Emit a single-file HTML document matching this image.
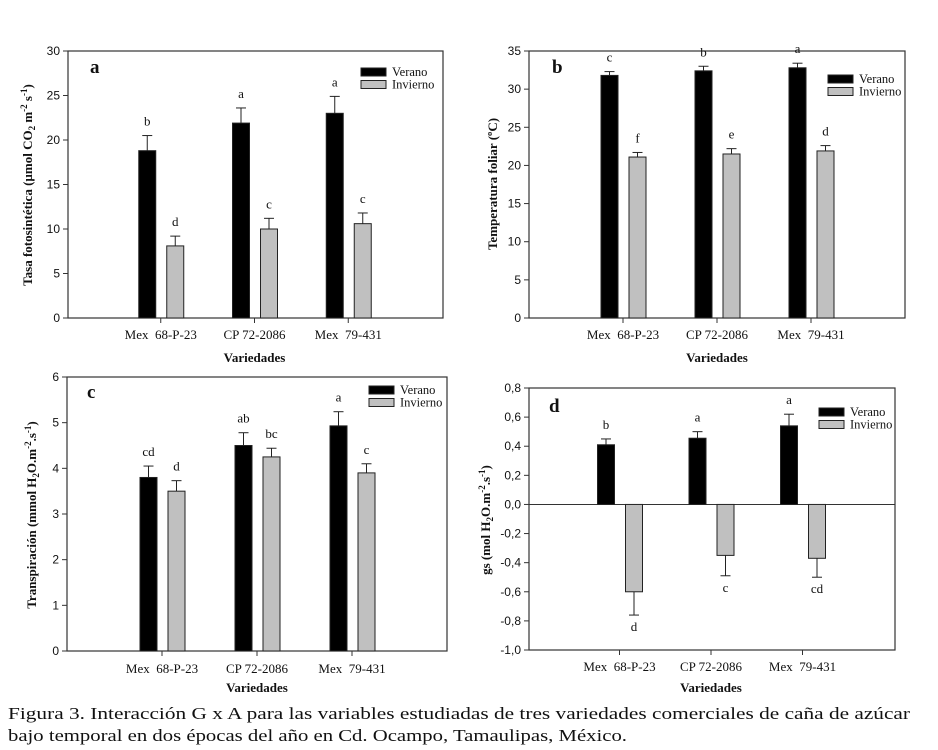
<!DOCTYPE html>
<html><head><meta charset="utf-8"><style>
html,body{margin:0;padding:0;background:#fff;}
svg{display:block;}
.tk{font-family:"Liberation Sans",Arial,sans-serif;font-size:12px;fill:#111;}
.sf{font-family:"Liberation Serif","Times New Roman",serif;fill:#111;white-space:pre;}
</style></head><body>
<svg id="fig" width="938" height="750" viewBox="0 0 938 750">
<g id="charts"></g>
<text class="sf" x="8" y="719" font-size="17" textLength="902" lengthAdjust="spacingAndGlyphs">Figura 3. Interacción G x A para las variables estudiadas de tres variedades comerciales de caña de azúcar</text>
<text class="sf" x="8" y="741" font-size="17" textLength="619" lengthAdjust="spacingAndGlyphs">bajo temporal en dos épocas del año en Cd. Ocampo, Tamaulipas, México.</text>
</svg>
<script>
const categories = ["Mex  68-P-23", "CP 72-2086", "Mex  79-431"];
const seriesNames = ["Verano", "Invierno"];
// panel a
const aVerano = [18.8, 21.9, 23.0];
const aVeranoErr = [1.7, 1.7, 1.9];
const aInvierno = [8.1, 10.0, 10.6];
const aInviernoErr = [1.1, 1.2, 1.2];
const aLettersV = ["b", "a", "a"];
const aLettersI = ["d", "c", "c"];
const aTicks = [0, 5, 10, 15, 20, 25, 30];
// panel b
const bVerano = [31.8, 32.4, 32.8];
const bVeranoErr = [0.5, 0.6, 0.6];
const bInvierno = [21.1, 21.5, 21.9];
const bInviernoErr = [0.6, 0.7, 0.7];
const bLettersV = ["c", "b", "a"];
const bLettersI = ["f", "e", "d"];
const bTicks = [0, 5, 10, 15, 20, 25, 30, 35];
// panel c
const cVerano = [3.8, 4.5, 4.93];
const cVeranoErr = [0.25, 0.28, 0.31];
const cInvierno = [3.5, 4.25, 3.9];
const cInviernoErr = [0.23, 0.19, 0.2];
const cLettersV = ["cd", "ab", "a"];
const cLettersI = ["d", "bc", "c"];
const cTicks = [0, 1, 2, 3, 4, 5, 6];
// panel d
const dVerano = [0.41, 0.455, 0.54];
const dVeranoErr = [0.04, 0.045, 0.08];
const dInvierno = [-0.60, -0.35, -0.37];
const dInviernoErr = [0.16, 0.14, 0.13];
const dLettersV = ["b", "a", "a"];
const dLettersI = ["d", "c", "cd"];
const dTicks = [-1.0, -0.8, -0.6, -0.4, -0.2, 0.0, 0.2, 0.4, 0.6, 0.8];

const NS = "http://www.w3.org/2000/svg";
const root = document.getElementById("charts");
function mk(tag, attrs, parent, text) {
  const e = document.createElementNS(NS, tag);
  for (const k in attrs) e.setAttribute(k, attrs[k]);
  if (text !== undefined) e.textContent = text;
  parent.appendChild(e);
  return e;
}

function panel(p) {
  const g = mk("g", {}, root);
  
  
  const yMin = p.ticks[0], yMax = p.ticks[p.ticks.length - 1];
  const y = v => p.bottom - (v - yMin) / (yMax - yMin) * (p.bottom - p.top);
  const step = (p.right - p.left) / 4;
  const cx = i => p.left + step * (i + 1) + p.shift;
  const fr = mk("rect", {x: p.left, y: p.top, width: p.right - p.left, height: p.bottom - p.top, fill: "none", stroke: "#333", "stroke-width": 1.2}, g);
  
  
  p.ticks.forEach(t => {
    const ty = y(t);
    mk("line", {x1: p.left - 5, x2: p.left, y1: ty, y2: ty, stroke: "#333", "stroke-width": 1}, g);
    const lbl = mk("text", {x: p.left - 8, y: ty + 4, "text-anchor": "end", class: "tk"}, g, p.fmt(t));
    
    
  });
  if (yMin < 0) {
    mk("line", {x1: p.left, x2: p.right, y1: y(0), y2: y(0), stroke: "#333", "stroke-width": 1}, g);
  }
  const BW = 17;
  const series = [
    {vals: p.v, err: p.ve, letters: p.lv, off: -22, fill: "#000"},
    {vals: p.i, err: p.ie, letters: p.li, off: 6, fill: "#c0c0c0"}
  ];
  categories.forEach((c, i) => {
    const x = cx(i);
    mk("line", {x1: x, x2: x, y1: p.bottom, y2: p.bottom + 5, stroke: "#333"}, g);
    const cl = mk("text", {x: x, y: p.catY, "text-anchor": "middle", class: "sf", "font-size": 13}, g, c);
    
    
    series.forEach((s, si) => {
      const v = s.vals[i], e = s.err[i];
      const bx = x + s.off;
      const y0 = y(0), yv = y(v);
      const r = mk("rect", {x: bx, y: Math.min(y0, yv), width: BW, height: Math.abs(y0 - yv), fill: s.fill, stroke: "#222", "stroke-width": 1}, g);
      
      
      const mid = bx + BW / 2;
      const ye = v >= 0 ? y(v + e) : y(v - e);
      mk("line", {x1: mid, x2: mid, y1: yv, y2: ye, stroke: "#222", "stroke-width": 1}, g);
      mk("line", {x1: mid - 5, x2: mid + 5, y1: ye, y2: ye, stroke: "#222", "stroke-width": 1}, g);
      const ly = v >= 0 ? ye - 10 : ye + 16;
      const lt = mk("text", {x: mid, y: ly, "text-anchor": "middle", class: "sf", "font-size": 13}, g, s.letters[i]);
      
      
    });
  });
  seriesNames.forEach((n, k) => {
    const ly = p.legY + k * 12.5;
    const sw = mk("rect", {x: p.legX, y: ly, width: 25, height: 8, fill: k ? "#c0c0c0" : "#000", stroke: "#222", "stroke-width": 1}, g);
    
    
    const lt = mk("text", {x: p.legX + 31, y: ly + 8, class: "sf", "font-size": 12.5}, g, n);
    
    
  });
  const pl = mk("text", {x: p.lblX, y: p.lblY, class: "sf", "font-size": 19, "font-weight": "bold"}, g, p.id);
  
  
  const xt = mk("text", {x: (p.left + p.right) / 2 + p.shift, y: p.xtY, "text-anchor": "middle", class: "sf", "font-size": 13, "font-weight": "bold"}, g, "Variedades");
  
  
  const yt = mk("text", {x: 0, y: 0, "text-anchor": "middle", class: "sf", "font-size": 13, "font-weight": "bold", transform: "translate(" + p.ytX + "," + p.ytY + ") rotate(-90)"}, g);
  yt.innerHTML = p.ytitle;
  
  
}

const int = t => String(t);
const comma = t => t.toFixed(1).replace(".", ",");
panel({id: "a", left: 68, right: 443, top: 51, bottom: 318, shift: -1, ticks: aTicks, fmt: int,
  v: aVerano, ve: aVeranoErr, i: aInvierno, ie: aInviernoErr, lv: aLettersV, li: aLettersI,
  legX: 361, legY: 68, lblX: 90, lblY: 73, catY: 339, xtY: 362, ytX: 32, ytY: 185,
  ytitle: 'Tasa fotosintética (µmol CO<tspan font-size="9" dy="3">2</tspan><tspan dy="-3"> m</tspan><tspan font-size="9" dy="-5">-2</tspan><tspan dy="5"> s</tspan><tspan font-size="9" dy="-5">-1</tspan><tspan dy="5">)</tspan>'});
panel({id: "b", left: 529, right: 905, top: 51, bottom: 318, shift: 0, ticks: bTicks, fmt: int,
  v: bVerano, ve: bVeranoErr, i: bInvierno, ie: bInviernoErr, lv: bLettersV, li: bLettersI,
  legX: 828, legY: 75, lblX: 552, lblY: 73, catY: 339, xtY: 362, ytX: 497, ytY: 184,
  ytitle: 'Temperatura foliar (ºC)'});
panel({id: "c", left: 67, right: 447, top: 377, bottom: 651, shift: 0, ticks: cTicks, fmt: int,
  v: cVerano, ve: cVeranoErr, i: cInvierno, ie: cInviernoErr, lv: cLettersV, li: cLettersI,
  legX: 369, legY: 386, lblX: 87, lblY: 398, catY: 673, xtY: 692, ytX: 36, ytY: 515,
  ytitle: 'Transpiración (mmol H<tspan font-size="9" dy="3">2</tspan><tspan dy="-3">O.m</tspan><tspan font-size="9" dy="-5">-2</tspan><tspan dy="5">.s</tspan><tspan font-size="9" dy="-5">-1</tspan><tspan dy="5">)</tspan>'});
panel({id: "d", left: 529, right: 895, top: 388, bottom: 650, shift: -1, ticks: dTicks, fmt: comma,
  v: dVerano, ve: dVeranoErr, i: dInvierno, ie: dInviernoErr, lv: dLettersV, li: dLettersI,
  legX: 819, legY: 408, lblX: 549, lblY: 412, catY: 671, xtY: 692, ytX: 490, ytY: 520,
  ytitle: 'gs (mol H<tspan font-size="9" dy="3">2</tspan><tspan dy="-3">O.m</tspan><tspan font-size="9" dy="-5">-2</tspan><tspan dy="5">.s</tspan><tspan font-size="9" dy="-5">-1</tspan><tspan dy="5">)</tspan>'});
</script>
</body></html>
